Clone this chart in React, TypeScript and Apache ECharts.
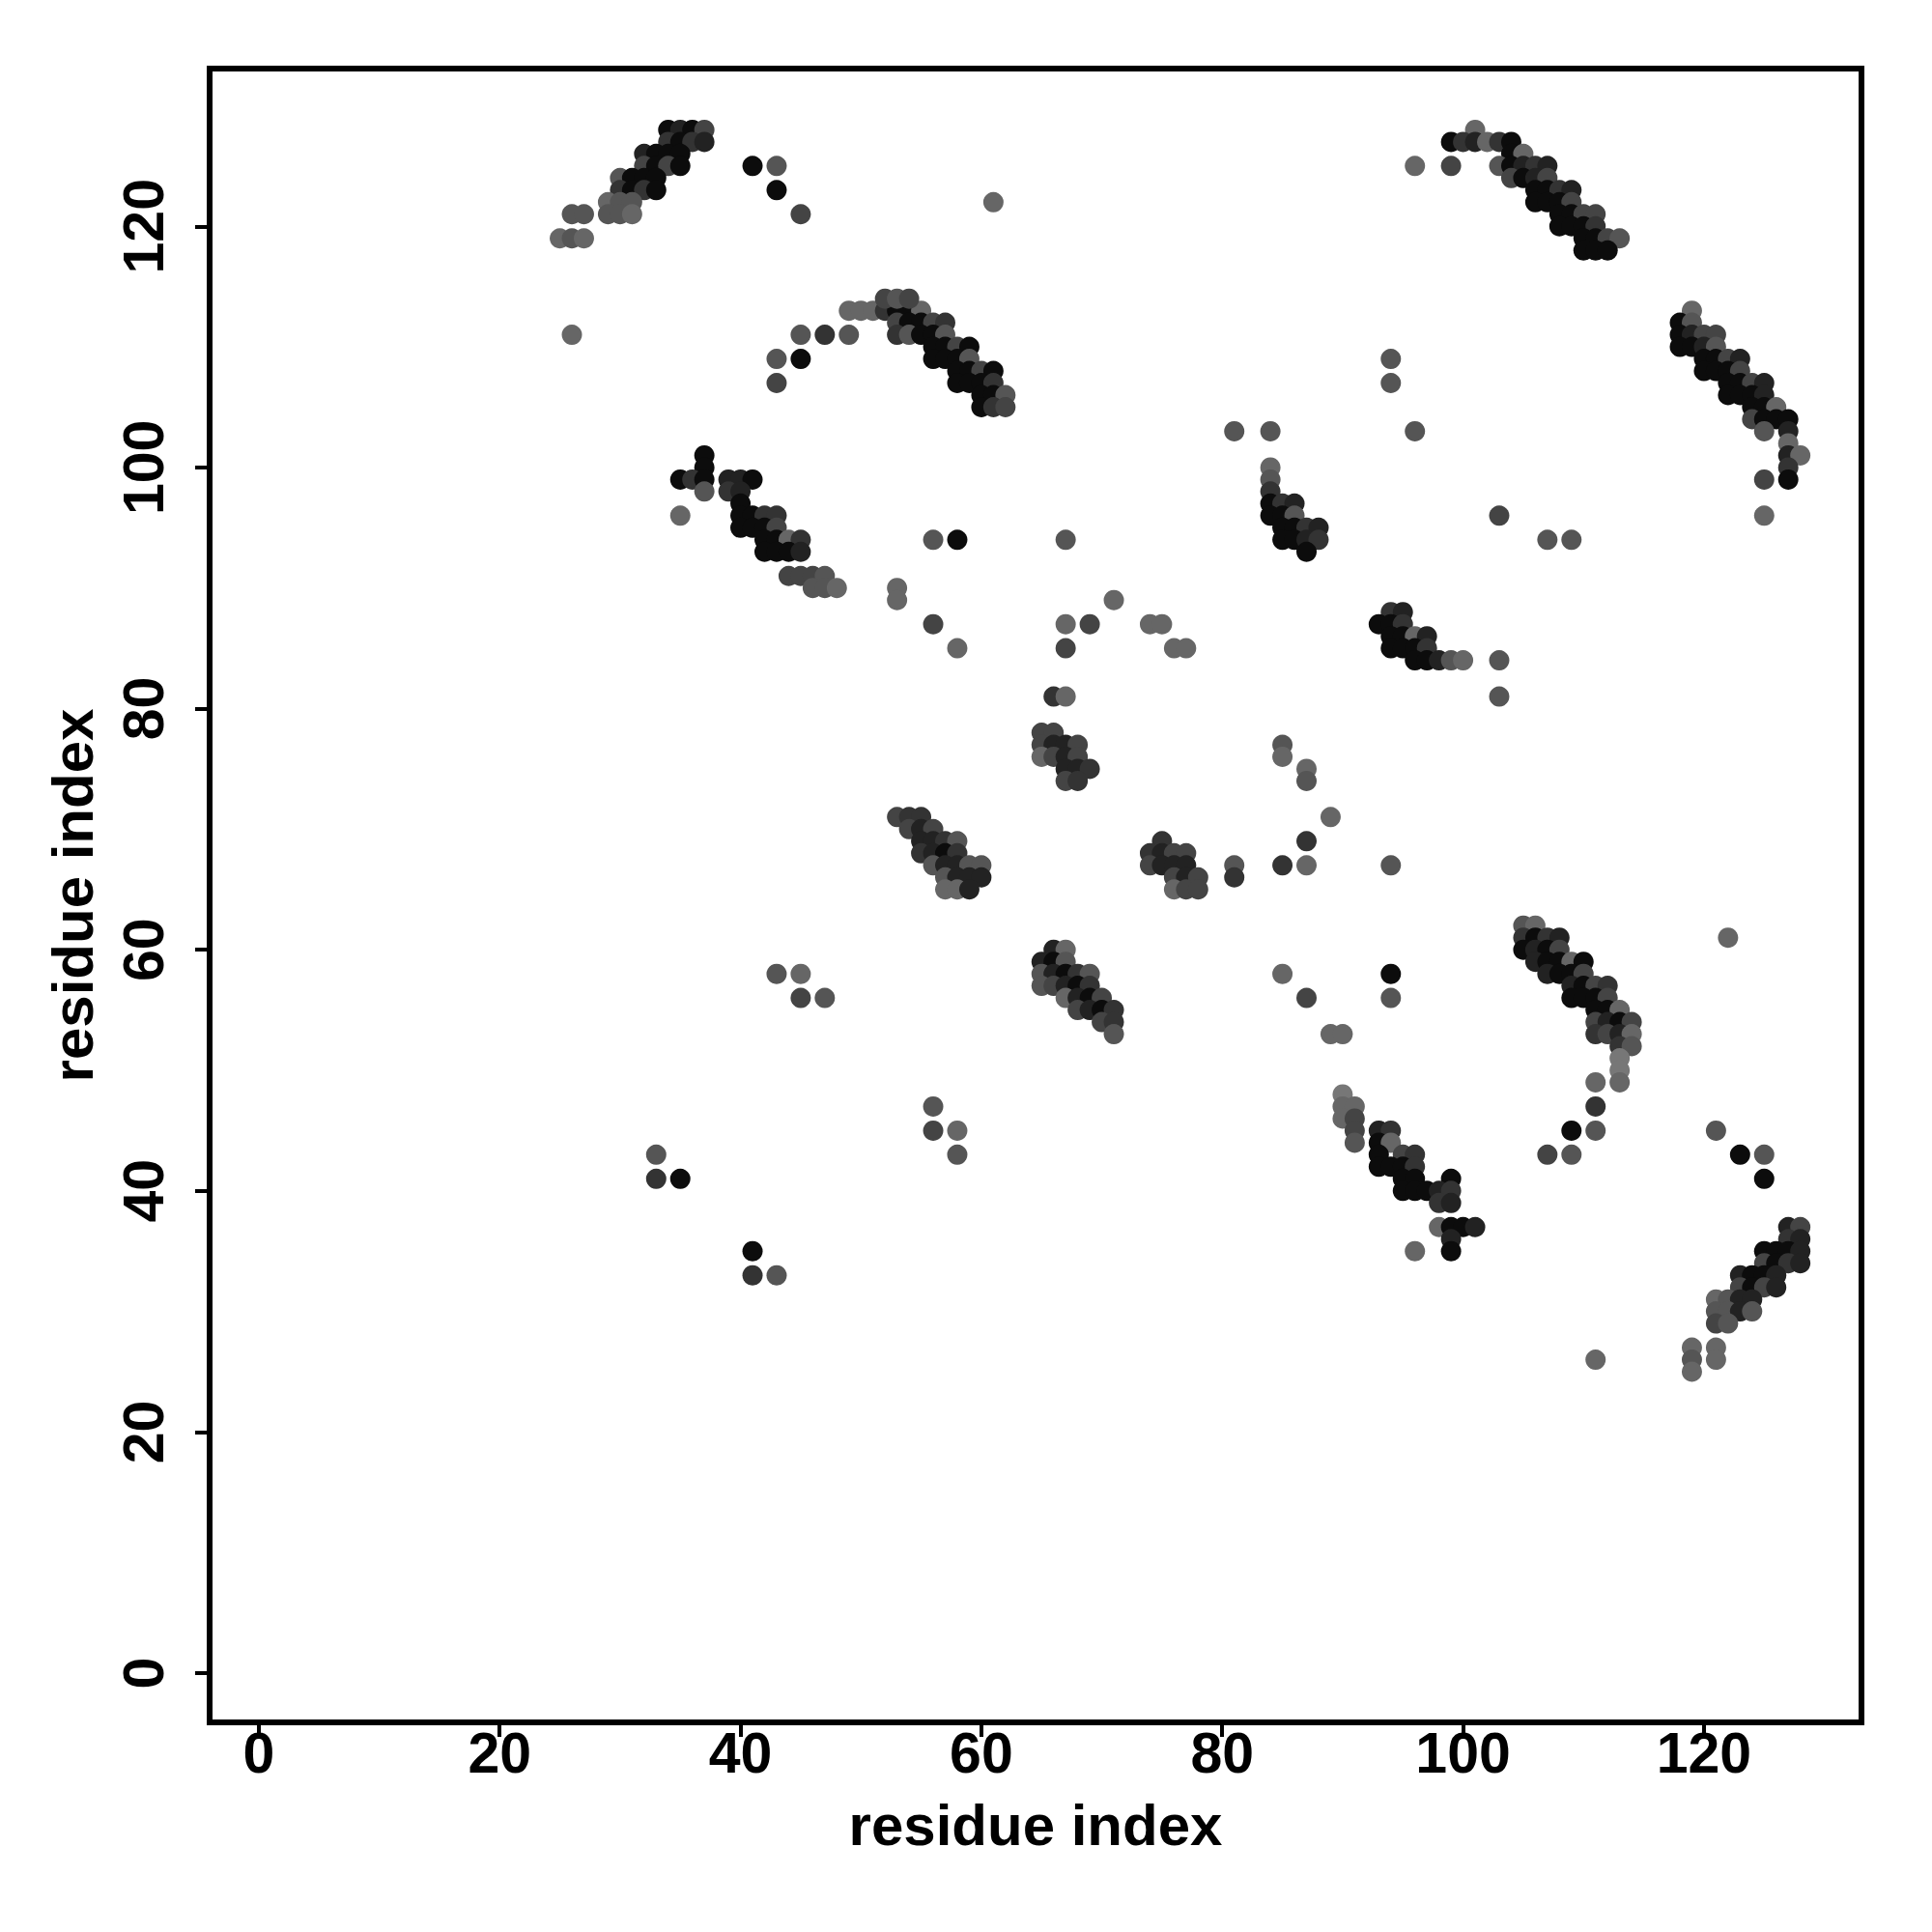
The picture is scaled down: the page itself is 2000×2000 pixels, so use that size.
import React, { useEffect, useRef } from "react";
import * as echarts from "echarts";

// Each contact: [residue i, residue j, grey level (1 = darkest ... 7 = lightest)]
const clusterTopLeft: number[][] = [
  [34, 128, 1], [35, 128, 2], [36, 128, 1], [37, 128, 4],
  [34, 127, 3], [35, 127, 1], [36, 127, 3], [37, 127, 2],
  [32, 126, 2], [33, 126, 1], [34, 126, 1], [35, 126, 1],
  [32, 125, 4], [33, 125, 1], [34, 125, 4], [35, 125, 1],
  [30, 124, 5], [31, 124, 1], [32, 124, 1], [33, 124, 1],
  [30, 123, 3], [31, 123, 1], [32, 123, 3], [33, 123, 1],
  [29, 122, 6], [30, 122, 5], [31, 122, 5],
  [26, 121, 5], [27, 121, 5], [29, 121, 5], [30, 121, 5], [31, 121, 6],
  [25, 119, 6], [26, 119, 5], [27, 119, 6],
  [41, 125, 1], [43, 125, 5], [43, 123, 1], [45, 121, 4], [26, 111, 6],
];

const clusterUpperMid: number[][] = [
  [49, 113, 6], [50, 113, 6], [51, 113, 6], [52, 113, 3], [53, 113, 1], [54, 113, 1], [55, 113, 6],
  [52, 114, 4], [53, 114, 5], [54, 114, 4],
  [53, 112, 4], [54, 112, 1], [55, 112, 1], [56, 112, 4], [57, 112, 3],
  [53, 111, 3], [54, 111, 5], [55, 111, 1], [56, 111, 1], [57, 111, 5],
  [56, 110, 1], [57, 110, 1], [58, 110, 4], [59, 110, 1],
  [56, 109, 1], [57, 109, 1], [58, 109, 1], [59, 109, 5],
  [58, 108, 1], [59, 108, 1], [60, 108, 4], [61, 108, 1],
  [58, 107, 1], [59, 107, 1], [60, 107, 1], [61, 107, 3],
  [60, 106, 1], [61, 106, 1], [62, 106, 5],
  [60, 105, 1], [61, 105, 3], [62, 105, 4],
  [45, 111, 5], [47, 111, 3], [49, 111, 5], [43, 109, 5], [45, 109, 1], [43, 107, 4], [61, 122, 6],
];

const clusterLeftMid: number[][] = [
  [37, 101, 1], [37, 100, 1],
  [35, 99, 1], [36, 99, 3], [37, 99, 1], [39, 99, 2], [40, 99, 2], [41, 99, 1],
  [37, 98, 5], [39, 98, 3], [40, 98, 2],
  [40, 97, 1],
  [35, 96, 6], [40, 96, 1], [41, 96, 1], [42, 96, 3], [43, 96, 3],
  [40, 95, 1], [41, 95, 1], [42, 95, 1], [43, 95, 4],
  [42, 94, 1], [43, 94, 1], [44, 94, 6], [45, 94, 3],
  [42, 93, 1], [43, 93, 1], [44, 93, 1], [45, 93, 2],
  [44, 91, 4], [45, 91, 4], [46, 91, 4], [47, 91, 5],
  [46, 90, 5], [47, 90, 5], [48, 90, 6],
];

const clusterCentre: number[][] = [
  [65, 78, 4], [66, 78, 4],
  [65, 77, 4], [66, 77, 2], [67, 77, 2], [68, 77, 4],
  [65, 76, 6], [66, 76, 4], [67, 76, 2], [68, 76, 4],
  [67, 75, 2], [68, 75, 2], [69, 75, 3],
  [67, 74, 4], [68, 74, 3],
  [66, 81, 3], [67, 81, 6],
  [53, 71, 4], [54, 71, 3], [55, 71, 3],
  [54, 70, 4], [55, 70, 2], [56, 70, 4],
  [55, 69, 2], [56, 69, 2], [57, 69, 3], [58, 69, 5],
  [55, 68, 3], [56, 68, 2], [57, 68, 1], [58, 68, 3],
  [56, 67, 5], [57, 67, 2], [58, 67, 2], [59, 67, 5], [60, 67, 5],
  [57, 66, 5], [58, 66, 2], [59, 66, 2], [60, 66, 2],
  [57, 65, 6], [58, 65, 6], [59, 65, 2],
  [75, 69, 3],
  [74, 68, 3], [75, 68, 2], [76, 68, 4], [77, 68, 4],
  [74, 67, 4], [75, 67, 2], [76, 67, 2], [77, 67, 2],
  [76, 66, 4], [77, 66, 2], [78, 66, 4],
  [76, 65, 6], [77, 65, 4], [78, 65, 4],
  [66, 60, 2], [67, 60, 6],
  [65, 59, 2], [66, 59, 1], [67, 59, 5],
  [65, 58, 5], [66, 58, 2], [67, 58, 1], [68, 58, 3], [69, 58, 5],
  [65, 57, 5], [66, 57, 4], [67, 57, 2], [68, 57, 1], [69, 57, 3],
  [67, 56, 6], [68, 56, 2], [69, 56, 1], [70, 56, 4],
  [68, 55, 4], [69, 55, 2], [70, 55, 1], [71, 55, 3],
  [70, 54, 4], [71, 54, 3],
  [71, 53, 5],
];

const clusterMidRight: number[][] = [
  [84, 100, 6], [84, 99, 5], [84, 98, 3],
  [84, 97, 1], [85, 97, 3], [86, 97, 2],
  [84, 96, 1], [85, 96, 1], [86, 96, 5],
  [85, 95, 1], [86, 95, 1], [87, 95, 3], [88, 95, 2],
  [85, 94, 1], [86, 94, 1], [87, 94, 2], [88, 94, 3],
  [87, 93, 1],
  [94, 88, 3], [95, 88, 2],
  [93, 87, 1], [94, 87, 1], [95, 87, 3],
  [94, 86, 1], [95, 86, 1], [96, 86, 6], [97, 86, 2],
  [94, 85, 1], [95, 85, 1], [96, 85, 1], [97, 85, 3],
  [96, 84, 1], [97, 84, 1], [98, 84, 2], [99, 84, 5], [100, 84, 6],
  [103, 84, 5], [103, 81, 5],
];

const clusterTopRight: number[][] = [
  [101, 128, 6],
  [99, 127, 1], [100, 127, 3], [101, 127, 2], [102, 127, 6], [103, 127, 3], [104, 127, 1],
  [104, 126, 1], [105, 126, 6],
  [96, 125, 6], [99, 125, 4], [103, 125, 5], [104, 125, 1], [105, 125, 2], [106, 125, 3], [107, 125, 2],
  [104, 124, 4], [105, 124, 1], [106, 124, 2], [107, 124, 4],
  [106, 123, 1], [107, 123, 1], [108, 123, 3], [109, 123, 2],
  [106, 122, 1], [107, 122, 1], [108, 122, 1], [109, 122, 4],
  [108, 121, 1], [109, 121, 1], [110, 121, 4], [111, 121, 4],
  [108, 120, 1], [109, 120, 1], [110, 120, 1], [111, 120, 3],
  [110, 119, 1], [111, 119, 1], [112, 119, 4], [113, 119, 5],
  [110, 118, 1], [111, 118, 1], [112, 118, 1],
];

const clusterRightUpper: number[][] = [
  [119, 113, 6],
  [118, 112, 1], [119, 112, 5],
  [118, 111, 1], [119, 111, 2], [120, 111, 4], [121, 111, 4],
  [118, 110, 1], [119, 110, 1], [120, 110, 2], [121, 110, 5],
  [120, 109, 1], [121, 109, 1], [122, 109, 4], [123, 109, 2],
  [120, 108, 1], [121, 108, 1], [122, 108, 1], [123, 108, 4],
  [122, 107, 1], [123, 107, 1], [124, 107, 4], [125, 107, 2],
  [122, 106, 1], [123, 106, 1], [124, 106, 1], [125, 106, 2],
  [124, 105, 1], [125, 105, 1], [126, 105, 6],
  [124, 104, 4], [125, 104, 1], [126, 104, 1], [127, 104, 1],
  [125, 103, 5], [127, 103, 2],
  [127, 102, 6],
  [127, 101, 2], [128, 101, 6],
  [127, 100, 3],
  [125, 99, 4], [127, 99, 1],
  [125, 96, 6],
  [94, 109, 5], [94, 107, 5], [81, 103, 5], [84, 103, 5], [96, 103, 5],
  [103, 96, 4], [107, 94, 5], [109, 94, 5],
];

const clusterRightLower: number[][] = [
  [105, 62, 5], [106, 62, 6],
  [105, 61, 3], [106, 61, 1], [107, 61, 3], [108, 61, 2],
  [105, 60, 1], [106, 60, 2], [107, 60, 1], [108, 60, 4],
  [106, 59, 2], [107, 59, 1], [108, 59, 1], [109, 59, 6], [110, 59, 1],
  [107, 58, 2], [108, 58, 1], [109, 58, 1], [110, 58, 4],
  [109, 57, 2], [110, 57, 1], [111, 57, 4], [112, 57, 3],
  [109, 56, 1], [110, 56, 1], [111, 56, 1], [112, 56, 4],
  [111, 55, 1], [112, 55, 1], [113, 55, 6],
  [111, 54, 4], [112, 54, 2], [113, 54, 1], [114, 54, 4],
  [111, 53, 3], [112, 53, 4], [113, 53, 2], [114, 53, 6],
  [113, 52, 3], [114, 52, 5],
  [113, 51, 7], [113, 50, 7], [113, 49, 6], [111, 49, 6],
  [111, 47, 3], [109, 45, 1], [111, 45, 5], [107, 43, 4], [109, 43, 5],
  [122, 61, 6], [121, 45, 5], [123, 43, 1], [125, 43, 5], [125, 41, 1], [111, 26, 6],
];

const clusterLowerMid: number[][] = [
  [90, 48, 7],
  [90, 47, 6], [91, 47, 6],
  [90, 46, 6], [91, 46, 4],
  [91, 45, 4], [93, 45, 2], [94, 45, 3],
  [91, 44, 5], [93, 44, 1], [94, 44, 6],
  [93, 43, 1], [95, 43, 4], [96, 43, 3],
  [93, 42, 1], [94, 42, 1], [95, 42, 1], [96, 42, 3],
  [95, 41, 1], [96, 41, 1], [99, 41, 1],
  [95, 40, 1], [96, 40, 1], [97, 40, 1], [98, 40, 2], [99, 40, 3],
  [98, 39, 3], [99, 39, 2],
  [98, 37, 6], [99, 37, 1], [100, 37, 1], [101, 37, 2],
  [99, 36, 2],
  [96, 35, 6], [99, 35, 1],
  [85, 58, 6], [94, 58, 1], [87, 56, 4], [94, 56, 5], [89, 53, 6], [90, 53, 6],
];

const clusterBottomRight: number[][] = [
  [127, 37, 2], [128, 37, 4],
  [127, 36, 3], [128, 36, 2],
  [125, 35, 1], [126, 35, 1], [127, 35, 1], [128, 35, 2],
  [125, 34, 4], [126, 34, 1], [127, 34, 3], [128, 34, 2],
  [123, 33, 2], [124, 33, 1], [125, 33, 1], [126, 33, 2],
  [123, 32, 4], [124, 32, 1], [125, 32, 4], [126, 32, 2],
  [121, 31, 6], [122, 31, 5], [123, 31, 2], [124, 31, 2],
  [121, 30, 5], [122, 30, 5], [123, 30, 2], [124, 30, 5],
  [121, 29, 4], [122, 29, 5],
  [119, 27, 6], [121, 27, 6],
  [119, 26, 5], [121, 26, 6],
  [119, 25, 6],
];

const scattered: number[][] = [
  [56, 94, 5], [58, 94, 1], [67, 94, 5],
  [53, 90, 6], [53, 89, 6], [71, 89, 6],
  [56, 87, 4], [67, 87, 6], [69, 87, 4], [74, 87, 6], [75, 87, 6],
  [58, 85, 6], [67, 85, 4], [76, 85, 6], [77, 85, 6],
  [85, 77, 5], [85, 76, 6], [87, 75, 6], [87, 74, 5], [89, 71, 6], [87, 69, 3],
  [81, 67, 5], [81, 66, 3], [85, 67, 3], [87, 67, 6], [94, 67, 5],
  [43, 58, 5], [45, 58, 6], [45, 56, 4], [47, 56, 5],
  [56, 47, 5], [56, 45, 4], [58, 45, 6], [58, 43, 5],
  [33, 43, 5], [33, 41, 3], [35, 41, 1], [41, 35, 1], [41, 33, 3], [43, 33, 5],
];

const tickValues = [0, 20, 40, 60, 80, 100, 120];
const axisTitle = "residue index";

const allContacts = [
  ...clusterTopLeft, ...clusterUpperMid, ...clusterLeftMid, ...clusterCentre,
  ...clusterMidRight, ...clusterTopRight, ...clusterRightUpper, ...clusterRightLower,
  ...clusterLowerMid, ...clusterBottomRight, ...scattered,
];

function greyOf(level: number): string {
  const v = level <= 1 ? 12 : level * 17;
  const h = v.toString(16).padStart(2, "0");
  return `#${h}${h}${h}`;
}

const FONT = "'Liberation Sans', Arial, Helvetica, sans-serif";

export default function App() {
  const ref = useRef<HTMLDivElement>(null);
  useEffect(() => {
    if (!ref.current) return;
    const chart = echarts.init(ref.current, undefined, { renderer: "svg" });
    const axisCommon = {
      type: "value" as const,
      min: -4.08,
      max: 133.08,
      splitLine: { show: false },
      axisLine: { show: false, onZero: false },
      axisTick: {
        show: true,
        length: 15,
        lineStyle: { color: "#000", width: 4 },
        customValues: tickValues,
      },
      name: axisTitle,
      nameLocation: "middle" as const,
      nameTextStyle: { fontSize: 60, fontWeight: "bold", color: "#000", fontFamily: FONT },
    };
    chart.setOption({
      animation: false,
      backgroundColor: "#ffffff",
      grid: {
        left: 217,
        top: 71,
        width: 1710,
        height: 1712,
        show: true,
        borderColor: "#000",
        borderWidth: 6,
        backgroundColor: "transparent",
      },
      xAxis: {
        ...axisCommon,
        nameGap: 76,
        axisLabel: {
          customValues: tickValues,
          fontSize: 59,
          fontWeight: "bold",
          color: "#000",
          fontFamily: FONT,
          margin: 2,
        },
      },
      yAxis: {
        ...axisCommon,
        nameGap: 112,
        axisLabel: {
          customValues: tickValues,
          rotate: 90,
          fontSize: 59,
          fontWeight: "bold",
          color: "#000",
          fontFamily: FONT,
          margin: 39,
        },
      },
      series: [
        {
          type: "scatter",
          symbol: "circle",
          symbolSize: 21,
          data: allContacts.map((c) => ({
            value: [c[0], c[1]],
            itemStyle: { color: greyOf(c[2]) },
          })),
          itemStyle: { opacity: 1, borderWidth: 0 },
          emphasis: { disabled: true },
        },
      ],
    });
    return () => chart.dispose();
  }, []);
  return (
    <div
      ref={ref}
      style={{ position: "absolute", left: 0, top: 0, width: 2000, height: 2000, background: "#fff" }}
    />
  );
}
